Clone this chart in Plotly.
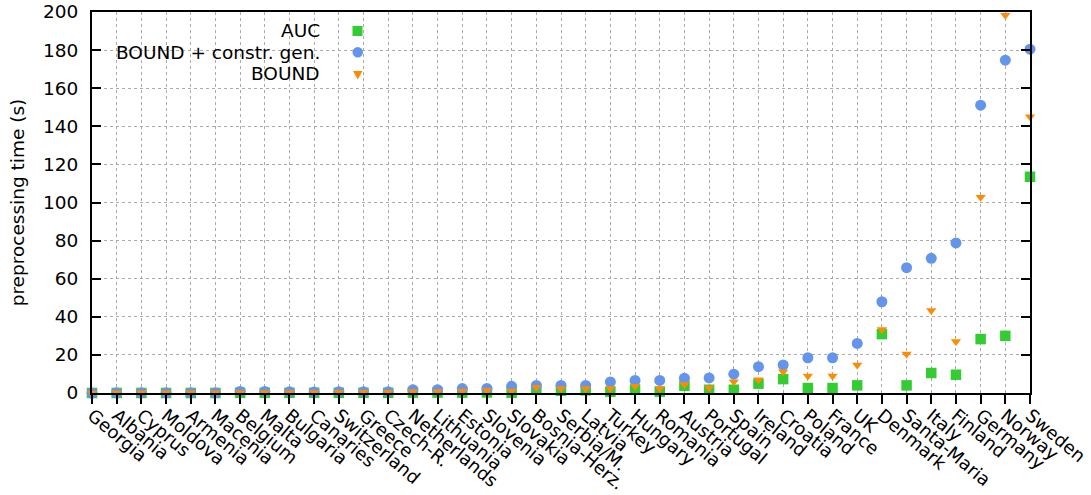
import plotly.graph_objects as go

# Countries along the x axis
countries = [
    "Georgia", "Albania", "Cyprus", "Moldova", "Armenia", "Macenia", "Belgium",
    "Malta", "Bulgaria", "Canaries", "Switzerland", "Greece", "Czech-R.",
    "Netherlands", "Lithuania", "Estonia", "Slovenia", "Slovakia",
    "Bosnia-Herz.", "Serbia/M.", "Latvia", "Turkey", "Hungary", "Romania",
    "Austria", "Portugal", "Spain", "Ireland", "Croatia", "Poland", "France",
    "UK", "Denmark", "Santa-Maria", "Italy", "Finland", "Germany", "Norway",
    "Sweden",
]

# Preprocessing time in seconds per method
auc = [
    0.0, 0.0, 0.0, 0.0, 0.0, 0.0, 0.1, 0.1, 0.1, 0.1, 0.1, 0.1, 0.1,
    0.2, 0.2, 0.2, 0.3, 0.1, 2.0, 1.2, 1.4, 0.7, 1.7, 0.7, 3.8, 1.7,
    1.7, 4.9, 7.3, 2.6, 2.6, 4.0, 30.9, 4.0, 10.5, 9.6, 28.3, 30.0, 113.5,
]
bound_cg = [
    0.0, 0.1, 0.1, 0.1, 0.1, 0.1, 0.8, 0.8, 0.6, 0.5, 0.7, 0.6, 0.6,
    1.7, 1.7, 2.3, 2.4, 3.5, 4.0, 4.0, 4.0, 5.8, 6.6, 6.6, 7.8, 7.9,
    9.9, 13.8, 14.7, 18.5, 18.5, 26.0, 47.9, 65.8, 70.7, 78.8, 151.1, 174.7, 180.5,
]
bound = [
    0.0, 0.1, 0.1, 0.1, 0.1, 0.1, 0.3, 0.3, 0.3, 0.3, 0.4, 0.4, 0.4,
    0.8, 0.8, 1.0, 1.5, 1.0, 3.0, 2.3, 2.3, 2.3, 3.5, 2.3, 4.5, 2.8,
    5.9, 6.9, 11.2, 8.9, 8.9, 14.7, 33.3, 20.5, 43.3, 27.0, 102.7, 198.3, 145.0,
]

y_ticks = list(range(0, 201, 20))

GREEN = "rgb(50,205,50)"
BLUE = "rgb(100,149,237)"
ORANGE = "rgb(255,140,0)"
FONT = "DejaVu Sans"
FS = 18.5
FS_X = 18

W, H = 1091, 495
L, R, T, B = 92, 61, 12, 102
PW, PH = W - L - R, H - T - B


def px(x):
    return (x - L) / PW


def py(y):
    return (H - B - y) / PH


fig = go.Figure()
fig.add_trace(go.Scatter(
    x=countries, y=auc, mode="markers", name="AUC",
    marker=dict(symbol="square", size=10.5, color=GREEN), cliponaxis=False,
))
fig.add_trace(go.Scatter(
    x=countries, y=bound_cg, mode="markers", name="BOUND + constr. gen.",
    marker=dict(symbol="circle", size=11, color=BLUE), cliponaxis=False,
))
fig.add_trace(go.Scatter(
    x=countries, y=bound, mode="markers", name="BOUND",
    marker=dict(symbol="triangle-down", size=9, color=ORANGE), cliponaxis=False,
))

shapes = [
    # opaque key box hiding the grid behind it
    dict(type="rect", xref="paper", yref="paper", layer="between",
         x0=px(L + 1), x1=px(393), y0=py(88), y1=py(20),
         fillcolor="white", line=dict(width=0)),
    # key samples
    dict(type="rect", xref="paper", yref="paper",
         x0=px(352.5), x1=px(362.5), y0=py(36), y1=py(26),
         fillcolor=GREEN, line=dict(width=0)),
    dict(type="circle", xref="paper", yref="paper",
         x0=px(352.5), x1=px(363), y0=py(57.5), y1=py(47),
         fillcolor=BLUE, line=dict(width=0)),
    dict(type="path", xref="paper", yref="paper",
         path=f"M {px(353)},{py(71)} L {px(362.5)},{py(71)} L {px(357.7)},{py(79.5)} Z",
         fillcolor=ORANGE, line=dict(width=0)),
]

annotations = [
    dict(text=t, xref="paper", yref="paper", x=px(322), y=py(yc),
         xanchor="right", yanchor="middle", showarrow=False,
         font=dict(family=FONT, size=FS, color="black"))
    for t, yc in [("AUC", 31), ("BOUND + constr. gen.", 52.5), ("BOUND", 74)]
]

fig.update_layout(
    width=W, height=H,
    margin=dict(l=L, r=R, t=T, b=B, pad=0, autoexpand=False),
    paper_bgcolor="white", plot_bgcolor="white",
    showlegend=False,
    font=dict(family=FONT, size=FS, color="black"),
    shapes=shapes,
    annotations=annotations,
)
fig.update_xaxes(
    type="category", range=[0, len(countries) - 1], automargin=False,
    showline=True, linecolor="black", linewidth=2, mirror=True,
    ticks="outside", ticklen=9, tickwidth=2, tickcolor="black",
    tickangle=40, tickfont=dict(family=FONT, size=FS_X),
    ticklabelstandoff=-6,
    showgrid=True, gridcolor="rgb(170,170,170)", griddash="dot", gridwidth=1,
    zeroline=False,
)
fig.update_yaxes(
    range=[0, 200], tickvals=y_ticks, automargin=False,
    showline=True, linecolor="black", linewidth=2, mirror="ticks",
    ticks="inside", ticklen=9, tickwidth=2, tickcolor="black",
    ticklabelstandoff=8,
    tickfont=dict(family=FONT, size=FS),
    showgrid=True, gridcolor="rgb(170,170,170)", griddash="dot", gridwidth=1,
    zeroline=False,
    title=dict(text="preprocessing time (s)", font=dict(family=FONT, size=FS), standoff=14),
)

fig.write_html("out.html")
